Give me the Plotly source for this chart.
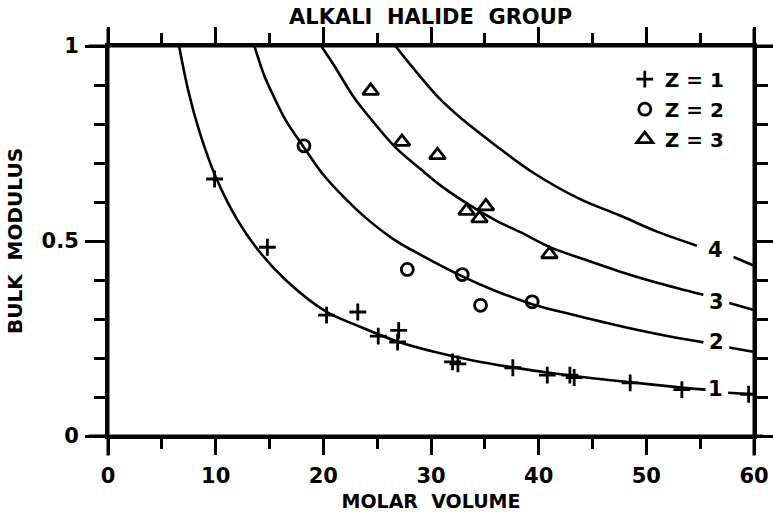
import plotly.graph_objects as go

# ---- data ----
z1_v = [9.9, 14.8, 20.3, 23.2, 25.1, 27.0, 26.9, 32.0, 32.5, 37.6, 40.8, 42.9, 43.3, 48.5, 53.3, 59.5]
z1_b = [0.659, 0.484, 0.310, 0.318, 0.256, 0.271, 0.241, 0.190, 0.185, 0.175, 0.156, 0.156, 0.150, 0.136, 0.119, 0.107]

z2_v = [18.2, 27.8, 32.9, 34.6, 39.4]
z2_b = [0.744, 0.427, 0.414, 0.335, 0.344]

z3_v = [24.4, 27.3, 30.6, 33.3, 34.5, 35.1, 41.0]
z3_b = [0.885, 0.754, 0.720, 0.577, 0.558, 0.589, 0.466]

c1_v = [6.6, 7.5, 8.5, 10, 12, 14, 16.5, 20.3, 23, 26.8, 30, 34, 37.6, 41, 45, 48.5, 53.3, 55.5]
c1_b = [1.0, 0.88, 0.78, 0.665, 0.555, 0.475, 0.40, 0.318, 0.285, 0.243, 0.218, 0.193, 0.176, 0.162, 0.148, 0.138, 0.124, 0.119]
c1_tail_v = [57.6, 59.9]
c1_tail_b = [0.111, 0.107]

c2_v = [13.6, 14.5, 15.4, 16.5, 18.2, 20, 22, 24, 26.5, 29, 33.3, 36, 39.4, 43, 46, 49, 52.2, 55.3]
c2_b = [1.0, 0.925, 0.87, 0.81, 0.74, 0.67, 0.61, 0.558, 0.505, 0.465, 0.404, 0.372, 0.338, 0.312, 0.292, 0.273, 0.255, 0.24]
c2_tail_v = [57.7, 59.9]
c2_tail_b = [0.227, 0.216]

c3_v = [19.8, 21, 22.8, 24.5, 26.7, 29, 31, 33.3, 36, 38.5, 41, 44, 47.5, 51, 55.3]
c3_b = [1.0, 0.95, 0.87, 0.81, 0.74, 0.685, 0.64, 0.597, 0.553, 0.52, 0.485, 0.455, 0.422, 0.393, 0.362]
c3_tail_v = [57.7, 59.9]
c3_tail_b = [0.341, 0.324]

c4_v = [26.7, 28, 30.8, 33, 36, 39.5, 43.8, 47.5, 51, 54.7]
c4_b = [1.0, 0.955, 0.865, 0.81, 0.745, 0.675, 0.608, 0.566, 0.524, 0.488]
c4_tail_v = [58.1, 59.9]
c4_tail_b = [0.459, 0.438]

curve_labels = ["1", "2", "3", "4"]
label_v = [56.4, 56.5, 56.5, 56.4]
label_b = [0.120, 0.241, 0.344, 0.476]

x_ticks = [0, 10, 20, 30, 40, 50, 60]
y_ticks = [0, 0.5, 1]
y_tick_text = ["0", "0.5", "1"]

title_text = "ALKALI  HALIDE  GROUP"
x_title = "MOLAR  VOLUME"
y_title = "BULK  MODULUS"
legend_names = ["Z = 1", "Z = 2", "Z = 3"]

FONT = "DejaVu Sans"
FS = 20

fig = go.Figure()

curves = [(c1_v, c1_b), (c2_v, c2_b), (c3_v, c3_b), (c4_v, c4_b),
          (c1_tail_v, c1_tail_b), (c2_tail_v, c2_tail_b), (c3_tail_v, c3_tail_b), (c4_tail_v, c4_tail_b)]
for cv, cb in curves:
    fig.add_trace(go.Scatter(x=cv, y=cb, mode="lines", showlegend=False,
                             line=dict(color="black", width=2.6, shape="spline", smoothing=1.0),
                             hoverinfo="skip"))

fig.add_trace(go.Scatter(x=z1_v, y=z1_b, mode="markers", name=legend_names[0], legendgroup="a",
                         marker=dict(symbol="cross-thin", size=12, color="black",
                                     line=dict(width=2.8, color="black")), cliponaxis=False))
fig.add_trace(go.Scatter(x=z2_v, y=z2_b, mode="markers", name=legend_names[1], legendgroup="b",
                         marker=dict(symbol="circle-open", size=12, color="black",
                                     line=dict(width=2.8, color="black")), cliponaxis=False))
fig.add_trace(go.Scatter(x=z3_v, y=z3_b, mode="markers", name=legend_names[2], legendgroup="c",
                         marker=dict(symbol="triangle-up-open", size=14, color="black",
                                     line=dict(width=2.8, color="black")), cliponaxis=False))

for t, lv, lb in zip(curve_labels, label_v, label_b):
    fig.add_annotation(x=lv, y=lb, text=t, showarrow=False, xanchor="center", yanchor="middle",
                       font=dict(family=FONT, size=21, color="black", weight="bold"))

# frame lines with overshoot past the corners
frame = [
    dict(x0=0, x1=0, y0=-0.05, y1=1.045),
    dict(x0=1, x1=1, y0=-0.05, y1=1.045),
    dict(x0=-0.03, x1=1.014, y0=0, y1=0),
    dict(x0=-0.03, x1=1.03, y0=1, y1=1),
]
for f in frame:
    fig.add_shape(type="line", xref="paper", yref="paper", line=dict(color="black", width=3), **f)

fig.update_layout(
    width=773, height=512,
    margin=dict(l=108, r=19, t=46, b=76, autoexpand=False),
    paper_bgcolor="white", plot_bgcolor="white",
    font=dict(family=FONT, size=FS, color="black", weight="bold"),
    title=dict(text=title_text, x=0.557, xanchor="center", y=0.967, yanchor="middle",
               font=dict(family=FONT, size=21, color="black", weight="bold")),
    legend=dict(x=0.80, y=0.965, xanchor="left", yanchor="top", bgcolor="rgba(0,0,0,0)",
                font=dict(family=FONT, size=FS, color="black", weight="bold"),
                tracegroupgap=1, itemwidth=30),
    xaxis=dict(range=[0, 60], tickmode="array", tickvals=x_ticks, showgrid=False, zeroline=False,
               automargin=False,
               showline=True, linewidth=3, linecolor="black", mirror="ticks",
               ticks="outside", ticklen=16, tickwidth=3, tickcolor="black",
               ticklabelstandoff=3,
               tickfont=dict(family=FONT, size=21, color="black", weight="bold"),
               minor=dict(tickmode="linear", tick0=0, dtick=5, ticks="outside", ticklen=10,
                          tickwidth=3, tickcolor="black", showgrid=False),
               title=dict(text=x_title, standoff=8,
                          font=dict(family=FONT, size=19, color="black", weight="bold"))),
    yaxis=dict(range=[0, 1], tickmode="array", tickvals=y_ticks, ticktext=y_tick_text,
               showgrid=False, zeroline=False, automargin=False,
               showline=True, linewidth=3, linecolor="black", mirror="ticks",
               ticks="outside", ticklen=20, tickwidth=3, tickcolor="black",
               ticklabelstandoff=2,
               tickfont=dict(family=FONT, size=21, color="black", weight="bold"),
               minor=dict(tickmode="linear", tick0=0, dtick=0.1, ticks="outside", ticklen=11,
                          tickwidth=3, tickcolor="black", showgrid=False),
               title=dict(text=y_title, standoff=14,
                          font=dict(family=FONT, size=FS, color="black", weight="bold"))),
)

fig.write_html("out.html")
